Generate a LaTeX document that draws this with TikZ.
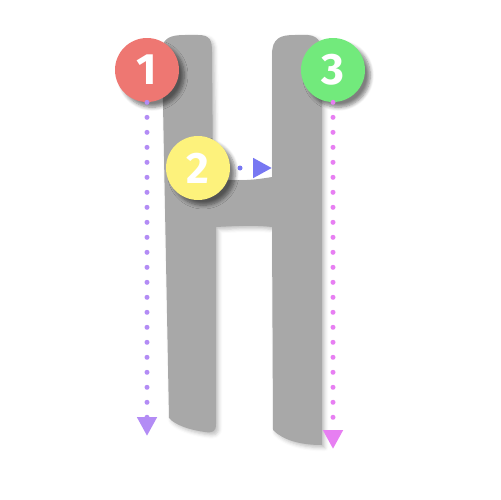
\documentclass[tikz,border=0pt]{standalone}
\usepackage{fontspec}
\setmainfont{Fira Sans}
\usetikzlibrary{arrows.meta,shadows.blur}
\definecolor{hgray}{HTML}{A8A8A8}
\definecolor{cred}{HTML}{EE7772}
\definecolor{cyel}{HTML}{FDF27C}
\definecolor{cgrn}{HTML}{72EA7C}
\definecolor{dpur}{HTML}{B38CF5}
\definecolor{dpink}{HTML}{E77FF2}
\definecolor{dblue}{HTML}{7777F2}
\tikzset{
  badge/.style={circle,minimum size=1.28cm,inner sep=0pt,text=white,
    font=\fontsize{25}{25}\selectfont\bfseries,
    blur shadow={shadow xshift=3pt,shadow yshift=-3pt,shadow blur steps=6,shadow opacity=50}},
  dotline/.style={line width=0.1cm,line cap=round,dash pattern=on 0pt off 0.3cm,
    -{Triangle[length=0.38cm,width=0.38cm,line cap=butt]}},
}
\begin{document}
\begin{tikzpicture}[x=0.02cm,y=-0.02cm]
\useasboundingbox (0,0) rectangle (500,500);
% letter H
\fill[hgray,blur shadow={shadow xshift=1.5pt,shadow yshift=-1.5pt,shadow blur steps=4,shadow opacity=25}]
  (162,52) .. controls (162,38) and (170,35) .. (185,35) -- (198,35)
  .. controls (210,35) and (212,40) .. (212,52) -- (213,178)
  .. controls (235,182) and (255,180) .. (272,177) -- (272,55)
  .. controls (272,38) and (280,35) .. (295,35) -- (308,35)
  .. controls (320,36) and (322,45) .. (322,55) -- (322,445)
  .. controls (300,445) and (283,440) .. (273,430) -- (272,227)
  .. controls (255,225) and (235,226) .. (216,227) -- (216,424)
  .. controls (216,432) and (212,433) .. (205,432)
  .. controls (190,430) and (175,425) .. (169,418) -- cycle;
% badges
\node[badge,fill=cred] (n1) at (147,70) {1};
\node[badge,fill=cgrn] (n3) at (333,70) {3};
\coordinate (e1) at (147,436);
\coordinate (e3) at (333,449);
\coordinate (s2) at (240,168);
\coordinate (e2) at (272,168);
\draw[dotline,dpur] (n1) -- (e1);
\draw[dotline,dpink] (n3) -- (e3);
\node[badge,fill=cyel] (n2) at (198,168) {2};
\draw[dotline,dblue,dash pattern=on 0pt off 1cm] (s2) -- (e2);
\end{tikzpicture}
\end{document}
